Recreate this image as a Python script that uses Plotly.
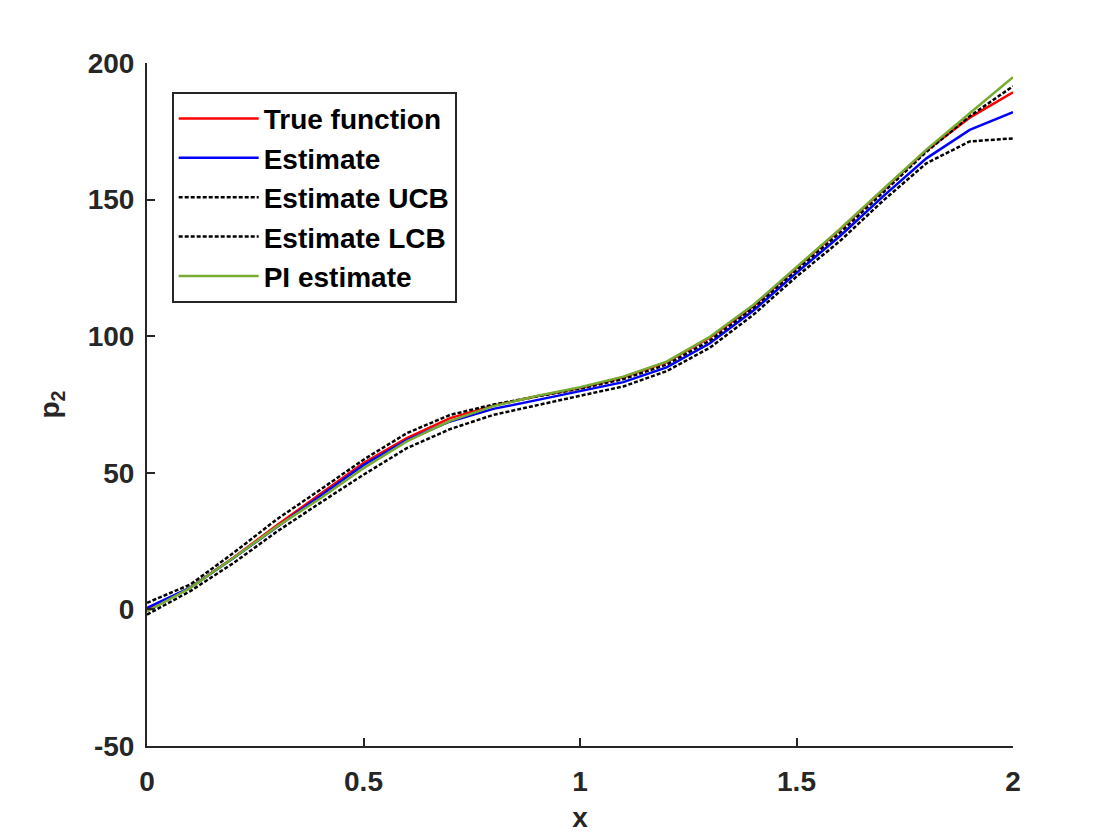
import plotly.graph_objects as go

# sample points, step 0.1
x = [0.0, 0.1, 0.2, 0.3, 0.4, 0.5, 0.6, 0.7, 0.8, 0.9, 1.0,
     1.1, 1.2, 1.3, 1.4, 1.5, 1.6, 1.7, 1.8, 1.9, 2.0]

true_fn = [0.0, 8.0, 19.0, 30.8, 42.2, 53.6, 62.7, 70.0, 74.6, 78.0, 81.0,
           85.0, 90.5, 99.5, 111.0, 125.0, 139.0, 153.5, 168.0, 180.0, 189.3]
estimate = [0.6, 8.0, 18.8, 30.3, 41.5, 52.8, 62.0, 68.8, 73.4, 76.6, 79.8,
            83.2, 88.6, 97.4, 109.3, 123.2, 136.6, 151.2, 165.1, 175.5, 182.0]
est_ucb = [2.4, 9.1, 20.7, 33.0, 43.8, 54.8, 64.5, 71.2, 75.0, 78.0, 80.8,
           84.3, 89.6, 98.4, 110.3, 124.2, 137.8, 152.6, 167.5, 180.5, 191.5]
est_lcb = [-1.9, 6.7, 17.0, 28.5, 39.0, 49.3, 59.0, 66.0, 71.2, 74.8, 78.2,
           81.6, 87.2, 95.8, 107.8, 121.8, 134.8, 149.6, 163.3, 171.3, 172.4]
pi_est = [-0.7, 7.9, 18.9, 30.3, 40.6, 51.7, 61.5, 69.0, 74.4, 78.1, 81.3,
          85.2, 90.7, 99.8, 111.4, 125.2, 139.2, 153.8, 168.3, 181.6, 194.8]

x_ticks = [0, 0.5, 1, 1.5, 2]
y_ticks = [-50, 0, 50, 100, 150, 200]

axis_col = "#262626"
font_fam = "Liberation Sans, Arial, sans-serif"

fig = go.Figure()
fig.add_trace(go.Scatter(x=x, y=true_fn, mode="lines", name="True function",
                         line=dict(color="#FF0000", width=2.5)))
fig.add_trace(go.Scatter(x=x, y=estimate, mode="lines", name="Estimate",
                         line=dict(color="#0000FF", width=2.5)))
fig.add_trace(go.Scatter(x=x, y=est_ucb, mode="lines", name="Estimate UCB",
                         line=dict(color="black", width=2.5, dash="4px,2px")))
fig.add_trace(go.Scatter(x=x, y=est_lcb, mode="lines", name="Estimate LCB",
                         line=dict(color="black", width=2.5, dash="4px,2px")))
fig.add_trace(go.Scatter(x=x, y=pi_est, mode="lines", name="PI estimate",
                         line=dict(color="#77AC30", width=2.5)))

axis_common = dict(
    showgrid=False, zeroline=False, showline=True, linecolor=axis_col, linewidth=2,
    ticks="inside", ticklen=8, tickwidth=2, tickcolor=axis_col,
    tickfont=dict(family=font_fam, size=28, color=axis_col, weight="bold"),
    mirror=False,
)

# page sits 8px in from the window corner, so margins are pulled in by 8
fig.update_layout(
    width=1120, height=840,
    margin=dict(l=139, r=115, t=55, b=102),
    paper_bgcolor="white", plot_bgcolor="white",
    xaxis=dict(range=[0, 2], tickvals=x_ticks, ticktext=[str(v) for v in x_ticks],
               ticklabelstandoff=9,
               title=dict(text="x", standoff=12,
                          font=dict(family=font_fam, size=28, color=axis_col, weight="bold")),
               **axis_common),
    yaxis=dict(range=[-50, 200], tickvals=y_ticks, ticktext=[str(v) for v in y_ticks],
               ticklabelstandoff=5,
               title=dict(text="p<sub>2</sub>", standoff=20,
                          font=dict(family=font_fam, size=28, color=axis_col, weight="bold")),
               **axis_common),
    legend=dict(x=0.0285, y=0.958, xanchor="left", yanchor="top",
                bgcolor="white", bordercolor=axis_col, borderwidth=2,
                itemwidth=80,
                font=dict(family=font_fam, size=28, color="black", weight="bold")),
)

fig.write_html("out.html")
